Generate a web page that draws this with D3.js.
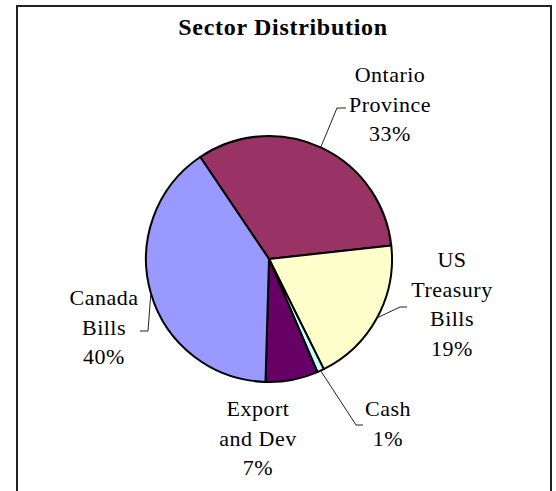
<!DOCTYPE html>
<html>
<head>
<meta charset="utf-8">
<script src="https://cdn.jsdelivr.net/npm/d3@7"></script>
<style>
  body { margin: 0; background: #fff; }
  svg { display: block; }
</style>
</head>
<body>
<div id="chart"></div>
<script>
// ============================
// Data
// ============================
const sectors = ["Ontario Province", "US Treasury Bills", "Cash", "Export and Dev", "Canada Bills"];
const shares = [32.7, 19.4, 0.9, 6.9, 40.1];
const labelLines = [
  ["Ontario", "Province"],
  ["US", "Treasury", "Bills"],
  ["Cash"],
  ["Export", "and Dev"],
  ["Canada", "Bills"]
];
const colors = ["#993366", "#FFFFCC", "#CCFFFF", "#660066", "#9999FF"];

// ============================
// Layout
// ============================
const width = 556, height = 491;
const cx = 269, cy = 259, radius = 123;
const lineStep = 29.5;
const serif = "'Liberation Serif', 'Times New Roman', Times, serif";

// label block: center x, first baseline y ; leader: elbow point and end x (null = no leader)
const labelLayout = [
  {x: 390, y: 82, elbow: [337, 108], end: 346},
  {x: 452, y: 267, elbow: [400, 307], end: 407},
  {x: 388, y: 416, elbow: [356, 425], end: 363},
  {x: 258, y: 416, elbow: null},
  {x: 104, y: 305, elbow: [148, 331], end: 140}
];

const svg = d3.select("#chart").append("svg")
  .attr("width", width)
  .attr("height", height);

// chart border
svg.append("rect")
  .attr("x", 17).attr("y", 6)
  .attr("width", 534).attr("height", 500)
  .attr("fill", "#fff")
  .attr("stroke", "#222")
  .attr("stroke-width", 2);

svg.append("text")
  .attr("x", 283).attr("y", 35)
  .attr("text-anchor", "middle")
  .attr("font-family", serif)
  .attr("font-weight", "bold")
  .attr("font-size", 24)
  .attr("letter-spacing", 0.7)
  .text("Sector Distribution");

const data = sectors.map((d, i) => ({name: d, value: shares[i], lines: labelLines[i], color: colors[i], pos: labelLayout[i]}));

const pie = d3.pie()
  .sort(null)
  .startAngle(-34 * Math.PI / 180)
  .endAngle((360 - 34) * Math.PI / 180)
  .value(d => d.value);

const arc = d3.arc().innerRadius(0).outerRadius(radius);

const arcs = pie(data);

const g = svg.append("g").attr("transform", `translate(${cx},${cy})`);

g.selectAll("path.slice")
  .data(arcs)
  .join("path")
  .attr("class", "slice")
  .attr("d", arc)
  .attr("fill", d => d.data.color)
  .attr("stroke", "#000")
  .attr("stroke-width", 2)
  .attr("stroke-linejoin", "round");

// leader lines
arcs.forEach(d => {
  const p = d.data.pos;
  if (!p.elbow) return;
  const mid = (d.startAngle + d.endAngle) / 2;
  const sx = cx + radius * Math.sin(mid);
  const sy = cy - radius * Math.cos(mid);
  svg.append("polyline")
    .attr("points", [[sx, sy], p.elbow, [p.end, p.elbow[1]]].map(q => q.join(",")).join(" "))
    .attr("fill", "none")
    .attr("stroke", "#222")
    .attr("stroke-width", 1);
});

// labels
const fmt = v => Math.round(v) + "%";
arcs.forEach(d => {
  const p = d.data.pos;
  const lines = d.data.lines.concat([fmt(d.data.value)]);
  const t = svg.append("text")
    .attr("text-anchor", "middle")
    .attr("font-family", serif)
    .attr("font-size", 22)
    .attr("letter-spacing", 0.5)
    .attr("fill", "#000");
  lines.forEach((s, i) => {
    t.append("tspan")
      .attr("x", p.x)
      .attr("y", p.y + i * lineStep)
      .text(s);
  });
});
</script>
</body>
</html>
